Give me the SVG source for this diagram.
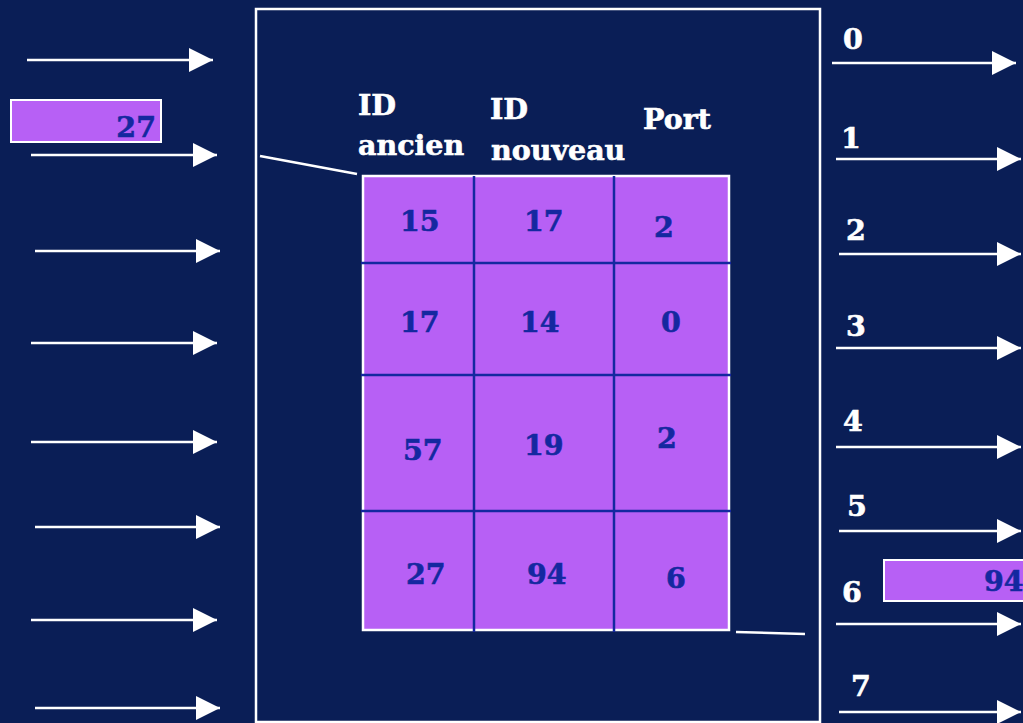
<svg xmlns="http://www.w3.org/2000/svg" width="1023" height="723" viewBox="0 0 1023 723">
<defs>
<style>
.bg{fill:#0a1e56}
.ln{stroke:#ffffff;stroke-width:2.5;fill:none}
.arr{stroke:#ffffff;stroke-width:2.5;fill:none;marker-end:url(#ah)}
.wt{font-family:"DejaVu Serif","Liberation Serif",serif;font-weight:bold;font-size:28.5px;fill:#ffffff;stroke:#ffffff;stroke-width:0.6}
.bt{font-family:"DejaVu Serif","Liberation Serif",serif;font-weight:bold;font-size:28.5px;fill:#1428a0;stroke:#1428a0;stroke-width:0.6}
.cell{fill:#b760f5}
.grid{stroke:#1428a0;stroke-width:2.5;fill:none}
</style>
<marker id="ah" markerUnits="userSpaceOnUse" markerWidth="24" markerHeight="24" viewBox="0 0 22 22" refX="22" refY="11" orient="auto">
<path d="M0,0 L22,11 L0,22 Z" fill="#ffffff"/>
</marker>
</defs>
<rect class="bg" x="0" y="0" width="1023" height="723"/>
<g id="switch">
<rect x="256" y="9" width="564" height="713" fill="none" stroke="#ffffff" stroke-width="2.5"/>
</g>
<g id="headers">
<text class="wt" x="358" y="115">ID</text>
<text class="wt" x="358" y="155">ancien</text>
<text class="wt" x="490" y="119">ID</text>
<text class="wt" x="491" y="160">nouveau</text>
<text class="wt" x="643" y="129">Port</text>
</g>
<g id="table">
<rect class="cell" x="363" y="176" width="366" height="454" stroke="#ffffff" stroke-width="2.5"/>
<line class="grid" x1="474" y1="176" x2="474" y2="632"/>
<line class="grid" x1="614" y1="176" x2="614" y2="632"/>
<line class="grid" x1="361" y1="263" x2="731" y2="263"/>
<line class="grid" x1="361" y1="375" x2="731" y2="375"/>
<line class="grid" x1="361" y1="511" x2="731" y2="511"/>
<text class="bt" x="400" y="231">15</text>
<text class="bt" x="524" y="231">17</text>
<text class="bt" x="654" y="237">2</text>
<text class="bt" x="400" y="332">17</text>
<text class="bt" x="520" y="332">14</text>
<text class="bt" x="661" y="332">0</text>
<text class="bt" x="403" y="460">57</text>
<text class="bt" x="524" y="455">19</text>
<text class="bt" x="657" y="448">2</text>
<text class="bt" x="406" y="584">27</text>
<text class="bt" x="527" y="584">94</text>
<text class="bt" x="666" y="588">6</text>
</g>
<g id="packet-in">
<rect x="11" y="100" width="150" height="42" class="cell" stroke="#ffffff" stroke-width="2"/>
<text class="bt" x="156" y="137" text-anchor="end">27</text>
</g>
<g id="packet-out">
<rect x="884" y="560" width="145" height="41" class="cell" stroke="#ffffff" stroke-width="2"/>
<text class="bt" x="984" y="591">94</text>
</g>
<g id="port-labels">
<text class="wt" x="843" y="49">0</text>
<text class="wt" x="841" y="148">1</text>
<text class="wt" x="846" y="240">2</text>
<text class="wt" x="846" y="336">3</text>
<text class="wt" x="843" y="431">4</text>
<text class="wt" x="847" y="516">5</text>
<text class="wt" x="842" y="602">6</text>
<text class="wt" x="851" y="696">7</text>
</g>
<g id="connectors">
<line class="arr" x1="27" y1="60" x2="213" y2="60"/>
<line class="arr" x1="31" y1="155" x2="217" y2="155"/>
<line class="arr" x1="35" y1="251" x2="220" y2="251"/>
<line class="arr" x1="31" y1="343" x2="217" y2="343"/>
<line class="arr" x1="31" y1="442" x2="217" y2="442"/>
<line class="arr" x1="35" y1="527" x2="220" y2="527"/>
<line class="arr" x1="31" y1="620" x2="217" y2="620"/>
<line class="arr" x1="35" y1="708" x2="220" y2="708"/>
<line class="arr" x1="832" y1="63" x2="1016" y2="63"/>
<line class="arr" x1="836" y1="159" x2="1021" y2="159"/>
<line class="arr" x1="839" y1="254" x2="1021" y2="254"/>
<line class="arr" x1="836" y1="348" x2="1021" y2="348"/>
<line class="arr" x1="836" y1="447" x2="1021" y2="447"/>
<line class="arr" x1="839" y1="531" x2="1021" y2="531"/>
<line class="arr" x1="836" y1="624" x2="1021" y2="624"/>
<line class="arr" x1="839" y1="712" x2="1021" y2="712"/>
<line class="ln" x1="260" y1="156" x2="357" y2="174"/>
<line class="ln" x1="736" y1="632" x2="805" y2="634"/>
</g>
</svg>
